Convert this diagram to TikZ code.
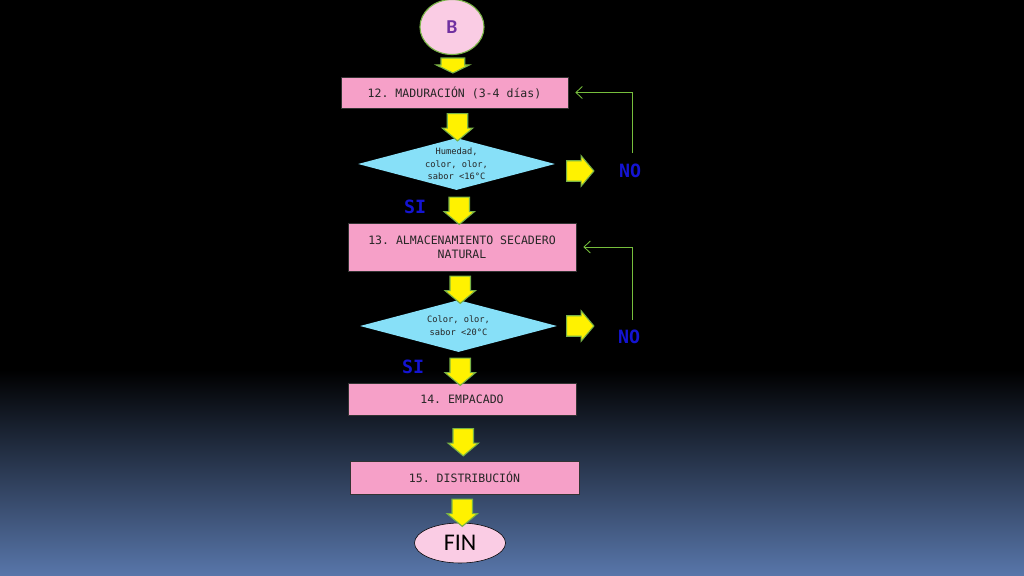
\documentclass[tikz,border=0pt]{standalone}
\usepackage{fontspec}
\setmonofont{DejaVu Sans Mono}
\newfontfamily\calib{Carlito}
\usetikzlibrary{shapes.geometric,shapes.arrows,arrows.meta,calc}

\definecolor{boxpink}{RGB}{246,160,200}
\definecolor{lightpink}{RGB}{250,204,228}
\definecolor{decblue}{RGB}{135,224,248}
\definecolor{arrgreen}{RGB}{120,178,70}
\definecolor{loopgreen}{RGB}{118,190,60}
\definecolor{labelblue}{RGB}{20,20,210}
\definecolor{bgbottom}{RGB}{88,118,170}

\tikzset{
  stage/.style={draw=black!80, fill=boxpink, thin, inner sep=0pt, align=center,
    font=\ttfamily\fontsize{8.2}{10}\selectfont, text=black!85},
  decision/.style={diamond, draw=none, fill=decblue, inner sep=0pt,
    minimum width=4.925cm, minimum height=1.3cm},
  dectext/.style={align=center, font=\ttfamily\fontsize{6.2}{9}\selectfont, text=black!85},
  barrow/.style={single arrow, draw=arrgreen, fill=yellow, line width=0.8pt,
    inner xsep=0pt, inner ysep=0.19cm, minimum height=0.68cm, minimum width=0.76cm,
    single arrow head extend=0.1cm, single arrow tip angle=100},
  answer/.style={font=\ttfamily\bfseries\fontsize{13}{13}\selectfont, text=labelblue},
  loopback/.style={draw=loopgreen, semithick, -{Straight Barb[length=1.6mm,width=3mm]}, shorten >=5pt}
}

\begin{document}
\begin{tikzpicture}[x=0.025cm,y=-0.025cm]
    % background
    \fill[black] (0,0) rectangle (1024,576);
    \shade[top color=black, bottom color=bgbottom] (0,370) rectangle (1024,576);
    \useasboundingbox (0,0) rectangle (1024,576);

    % start / end
    \node[ellipse, draw=arrgreen, fill=lightpink, line width=0.8pt, minimum width=1.6cm, minimum height=1.375cm,
          font=\calib\bfseries\fontsize{14}{14}\selectfont, text={rgb,255:red,112;green,48;blue,160}] (B) at (452,27) {B};
    \node[ellipse, draw=black, fill=lightpink, minimum width=2.275cm, minimum height=1cm,
          font=\calib\fontsize{17}{17}\selectfont] (fin) at (460,543) {FIN};

    % stages
    \node[stage, minimum width=5.675cm, minimum height=0.775cm] (b12) at (454.5,92.5) {12. MADURACIÓN (3-4 días)};
    \node[stage, minimum width=5.7cm, minimum height=1.2cm] (b13) at (462,247) {13. ALMACENAMIENTO SECADERO\\NATURAL};
    \node[stage, minimum width=5.7cm, minimum height=0.8cm] (b14) at (462,399) {14. EMPACADO};
    \node[stage, minimum width=5.725cm, minimum height=0.825cm] (b15) at (464.5,477.5) {15. DISTRIBUCIÓN};

    % decisions
    \node[decision] (d1) at (456.5,164) {};
    \node[dectext] at (d1) {Humedad,\\color, olor,\\sabor <16°C};
    \node[decision] (d2) at (458.5,326) {};
    \node[dectext] at (d2) {Color, olor,\\sabor <20°C};

    % answers
    \node[answer] (no1) at (630,171) {NO};
    \node[answer] (no2) at (629,337) {NO};
    \node[answer] (si1) at (415,207) {SI};
    \node[answer] (si2) at (413,367) {SI};

    % block arrows
    \node[barrow, rotate=-90, minimum height=0.375cm, minimum width=0.825cm, inner ysep=0.24cm,
          single arrow tip angle=128] (a0) at ($(B.south)!0.35!(b12.north)$) {};
    \node[barrow, rotate=-90] (a1) at ($(b12.south)!0.5!(d1.north)+(2,0)$) {};
    \node[barrow, rotate=-90] (a2) at ($(d1.south)!0.5!(b13.north)$) {};
    \node[barrow, rotate=-90] (a3) at ($(b13.south)!0.5!(d2.north)$) {};
    \node[barrow, rotate=-90] (a4) at ($(d2.south)!0.5!(b14.north)$) {};
    \node[barrow, rotate=-90] (a5) at ($(b14.south)!0.5!(b15.north)$) {};
    \node[barrow, rotate=-90] (a6) at ($(b15.south)!0.5!(fin.north)$) {};
    \node[barrow] (r1) at (576,171) {};
    \node[barrow] (r2) at (576,326) {};

    % loops back
    \draw[loopback] ($(no1.north)+(2,-6)$) |- (b12.east);
    \draw[loopback] ($(no2.north)+(3,-5)$) |- (b13.east);

\end{tikzpicture}
\end{document}
